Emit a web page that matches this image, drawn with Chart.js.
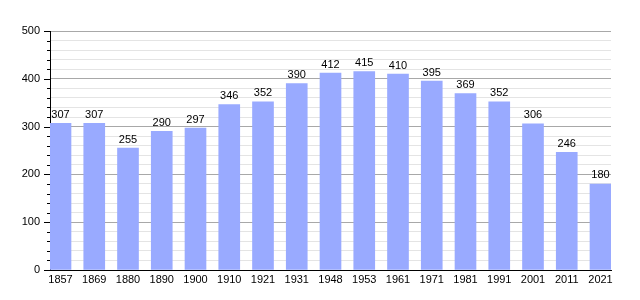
<!DOCTYPE html>
<html><head><meta charset="utf-8">
<script src="https://cdn.jsdelivr.net/npm/chart.js@4"></script>
<style>html,body{margin:0;padding:0;background:#fff;}#wrap{width:640px;height:300px;}</style>
</head><body><div id="wrap"><canvas id="c" width="640" height="300"></canvas></div>
<script>
const years = ['1857','1869','1880','1890','1900','1910','1921','1931','1948','1953','1961','1971','1981','1991','2001','2011','2021'];
const population = [307,307,255,290,297,346,352,390,412,415,410,395,369,352,306,246,180];
const yTicks = [0,100,200,300,400,500];

const FONT = '"Liberation Sans", Arial, sans-serif';
const labelPlugin = {
  id: 'vals',
  afterDatasetsDraw(chart) {
    const ctx = chart.ctx;
    const meta = chart.getDatasetMeta(0);
    ctx.save();
    ctx.font = '11px ' + FONT;
    ctx.fillStyle = '#000';
    ctx.textAlign = 'center';
    ctx.textBaseline = 'bottom';
    meta.data.forEach((bar, i) => {
      ctx.fillText(String(population[i]), bar.x, bar.y - 3);
    });
    ctx.restore();
  }
};
const tickPlugin = {
  id: 'yticks',
  afterDraw(chart) {
    const ctx = chart.ctx;
    const y = chart.scales.y;
    const x0 = chart.chartArea.left;
    ctx.save();
    ctx.strokeStyle = '#000';
    ctx.lineWidth = 1;
    y.ticks.forEach(t => {
      const py = Math.round(y.getPixelForValue(t.value)) + 0.5;
      const len = yTicks.includes(t.value) ? 6 : 3;
      ctx.beginPath();
      ctx.moveTo(x0 - len, py);
      ctx.lineTo(x0, py);
      ctx.stroke();
    });
    ctx.restore();
  }
};

new Chart(document.getElementById('c'), {
  type: 'bar',
  data: {
    datasets: [{
      data: population.map((v, i) => ({x: i, y: v})),
      backgroundColor: '#99aaff',
      borderWidth: 0,
      barThickness: 21
    }]
  },
  options: {
    responsive: false,
    animation: false,
    events: [],
    layout: {padding: {top: 31, right: 29, left: 0, bottom: 0}},
    plugins: {legend: {display: false}, tooltip: {enabled: false}},
    scales: {
      x: {
        type: 'linear',
        offset: false,
        min: -0.3111,
        max: years.length - 1 + 0.3111,
        afterBuildTicks(scale) { scale.ticks = years.map((_, i) => ({value: i})); },
        afterFit(scale) { scale.height = 30; },
        grid: {display: false, drawTicks: false, offset: false},
        border: {display: true, color: '#000', width: 1},
        ticks: {
          autoSkip: false, maxRotation: 0, padding: 3,
          color: '#000', font: {family: FONT, size: 11},
          callback: (v) => years[v]
        }
      },
      y: {
        min: 0, max: 500,
        afterFit(scale) { scale.width = 50; },
        afterBuildTicks(scale) {
          const t = [];
          for (let v = 0; v <= 500; v += 20) t.push({value: v});
          scale.ticks = t;
        },
        grid: {
          color: (c) => (c.tick && c.tick.value % 100 === 0) ? '#a8a8a8' : '#e4e4e4',
          drawTicks: false,
          lineWidth: 1
        },
        border: {display: true, color: '#000', width: 1},
        ticks: {
          autoSkip: false,
          padding: 10,
          color: '#000', font: {family: FONT, size: 11},
          callback: (v) => yTicks.includes(v) ? String(v) : ''
        }
      }
    }
  },
  plugins: [labelPlugin, tickPlugin]
});
</script></body></html>
